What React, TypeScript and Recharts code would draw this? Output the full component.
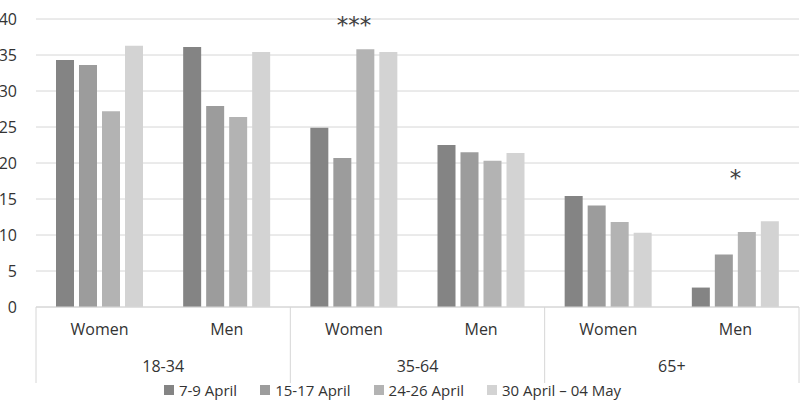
import { Bar, BarChart, CartesianGrid, Legend, ReferenceDot, XAxis, YAxis } from "recharts";

const groups = ["18-34", "18-34", "35-64", "35-64", "65+", "65+"];
const sexes = ["Women", "Men", "Women", "Men", "Women", "Men"];

const april7to9 = [34.3, 36.1, 24.9, 22.5, 15.4, 2.7];
const april15to17 = [33.6, 27.9, 20.7, 21.5, 14.1, 7.3];
const april24to26 = [27.2, 26.4, 35.8, 20.3, 11.8, 10.4];
const april30toMay4 = [36.3, 35.4, 35.4, 21.4, 10.3, 11.9];

const seriesNames = ["7-9 April", "15-17 April", "24-26 April", "30 April – 04 May"];
const seriesColors = ["#848484", "#9c9c9c", "#b3b3b3", "#d3d3d3"];
const yTicks = [0, 5, 10, 15, 20, 25, 30, 35, 40];

// significance markers: category key, height (value units), text
const markers = [
  { key: "35-64|Women", y: 39.2, text: "***" },
  { key: "65+|Men", y: 18.0, text: "*" },
];

const data = groups.map((g, i) => ({
  key: `${g}|${sexes[i]}`,
  group: g,
  sex: sexes[i],
  s1: april7to9[i],
  s2: april15to17[i],
  s3: april24to26[i],
  s4: april30toMay4[i],
}));

const FONT = "'Open Sans', sans-serif";
const TEXT = "#333333";
const LINE = "#d6d6d6";

function SexTick({ x, y, index }: any) {
  return (
    <text x={x} y={y} dy={28} textAnchor="middle" fill={TEXT} fontSize={16} fontFamily={FONT}>
      {sexes[index]}
    </text>
  );
}

function GroupTick({ x, y, index, payload }: any) {
  const off = payload.offset;
  const isLast = index === data.length - 1;
  return (
    <g>
      {index % 2 === 0 && <line x1={x - off} x2={x - off} y1={y - 38} y2={y + 38} stroke={LINE} />}
      {isLast && <line x1={x + off} x2={x + off} y1={y - 38} y2={y + 38} stroke={LINE} />}
      {index % 2 === 1 && (
        <text x={x - off} y={y} dy={27} textAnchor="middle" fill={TEXT} fontSize={16} fontFamily={FONT}>
          {groups[index]}
        </text>
      )}
    </g>
  );
}

function LegendContent() {
  return (
    <div
      style={{
        display: "flex",
        justifyContent: "center",
        gap: 23,
        fontFamily: FONT,
        fontSize: 15,
        color: TEXT,
        paddingRight: 14,
        marginTop: -3,
      }}
    >
      {seriesNames.map((n, i) => (
        <div key={n} style={{ display: "flex", alignItems: "center" }}>
          <span style={{ width: 10, height: 10, background: seriesColors[i], marginRight: 5, display: "inline-block" }} />
          <span>{n}</span>
        </div>
      ))}
    </div>
  );
}

export default function App() {
  return (
    <div style={{ position: "absolute", left: 0, top: 0, width: 800, height: 415, background: "#fff" }}>
      <BarChart
        width={800}
        height={415}
        data={data}
        margin={{ top: 19, right: 1, left: 0, bottom: 0 }}
        barSize={18}
        barGap={5}
      >
        <CartesianGrid vertical={false} stroke={LINE} />
        <YAxis
          width={36}
          domain={[0, 40]}
          ticks={yTicks}
          axisLine={false}
          tickLine={false}
          tickSize={0}
          tickMargin={19}
          tick={{ fill: TEXT, fontSize: 16, fontFamily: FONT }}
        />
        <XAxis
          dataKey="key"
          height={38}
          interval={0}
          tickLine={false}
          tickSize={0}
          tickMargin={0}
          axisLine={{ stroke: LINE }}
          tick={<SexTick />}
        />
        <XAxis
          dataKey="key"
          xAxisId="grp"
          height={38}
          interval={0}
          axisLine={false}
          tickLine={false}
          tickSize={0}
          tickMargin={0}
          tick={<GroupTick />}
        />
        <Bar dataKey="s1" name={seriesNames[0]} fill={seriesColors[0]} isAnimationActive={false} />
        <Bar dataKey="s2" name={seriesNames[1]} fill={seriesColors[1]} isAnimationActive={false} />
        <Bar dataKey="s3" name={seriesNames[2]} fill={seriesColors[2]} isAnimationActive={false} />
        <Bar dataKey="s4" name={seriesNames[3]} fill={seriesColors[3]} isAnimationActive={false} />
        {markers.map((m) => (
          <ReferenceDot
            key={m.key}
            x={m.key}
            y={m.y}
            r={0}
            stroke="none"
            label={{ value: m.text, position: "center", fill: "#404040", fontSize: 23, fontFamily: "'DejaVu Sans', sans-serif" }}
          />
        ))}
        <Legend verticalAlign="bottom" height={32} content={<LegendContent />} />
      </BarChart>
    </div>
  );
}
